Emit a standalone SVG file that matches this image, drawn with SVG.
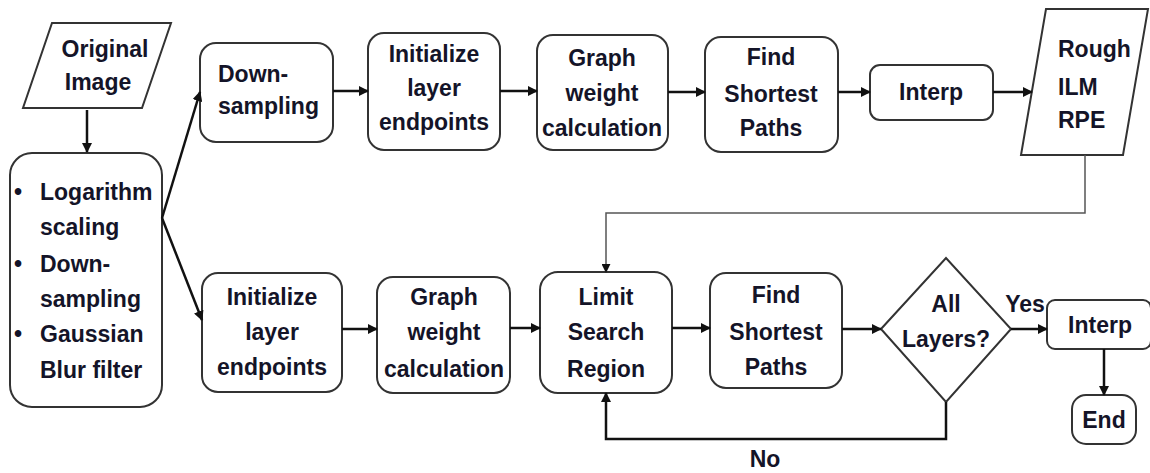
<svg xmlns="http://www.w3.org/2000/svg" width="1150" height="473" viewBox="0 0 1150 473">
<style>
.box{fill:#fff;stroke:#333;stroke-width:2}
.t{font-family:"Liberation Sans",Arial,sans-serif;font-weight:bold;font-size:23px;fill:#141428}
.c{text-anchor:middle}
.ln{fill:none;stroke:#111;stroke-width:2.5}
.thin{fill:none;stroke:#555;stroke-width:1.5}
</style>
<defs>
<marker id="ah" viewBox="0 0 10 10" refX="9" refY="5" markerWidth="4" markerHeight="4" orient="auto" markerUnits="strokeWidth">
<path d="M0,0 L10,5 L0,10 z" fill="#111"/>
</marker>
<marker id="ah2" viewBox="0 0 10 10" refX="9" refY="5" markerWidth="6" markerHeight="6" orient="auto" markerUnits="strokeWidth">
<path d="M0,0 L10,5 L0,10 z" fill="#111"/>
</marker>
</defs>
<g id="original">
<polygon class="box" points="52,23 171,23 142,108 23,108"/>
<text class="t c" x="105" y="57">Original</text>
<text class="t c" x="98" y="90">Image</text>
</g>
<g id="preprocess">
<rect class="box" x="10" y="153" width="152" height="254" rx="22"/>
<text class="t" x="14" y="200">•</text><text class="t" x="40" y="200">Logarithm</text>
<text class="t" x="40" y="235">scaling</text>
<text class="t" x="14" y="272">•</text><text class="t" x="40" y="272">Down-</text>
<text class="t" x="40" y="307">sampling</text>
<text class="t" x="14" y="342">•</text><text class="t" x="40" y="342">Gaussian</text>
<text class="t" x="40" y="378">Blur filter</text>
</g>
<g id="downsampling">
<rect class="box" x="200" y="43" width="133" height="99" rx="16"/>
<text class="t" x="218" y="82">Down-</text>
<text class="t" x="218" y="114">sampling</text>
</g>
<g id="init1">
<rect class="box" x="368" y="33" width="132" height="117" rx="16"/>
<text class="t c" x="434" y="62">Initialize</text>
<text class="t c" x="434" y="96">layer</text>
<text class="t c" x="434" y="130">endpoints</text>
</g>
<g id="graph1">
<rect class="box" x="537" y="35" width="131" height="115" rx="16"/>
<text class="t c" x="602" y="66">Graph</text>
<text class="t c" x="602" y="101">weight</text>
<text class="t c" x="602" y="136">calculation</text>
</g>
<g id="find1">
<rect class="box" x="705" y="37" width="133" height="115" rx="16"/>
<text class="t c" x="771" y="65">Find</text>
<text class="t c" x="771" y="102">Shortest</text>
<text class="t c" x="771" y="136">Paths</text>
</g>
<g id="interp1">
<rect class="box" x="870" y="65" width="123" height="55" rx="10"/>
<text class="t c" x="931" y="100">Interp</text>
</g>
<g id="rough">
<polygon class="box" points="1046,9 1148,9 1123,155 1021,155"/>
<text class="t" x="1058" y="57">Rough</text>
<text class="t" x="1058" y="95">ILM</text>
<text class="t" x="1058" y="128">RPE</text>
</g>
<g id="init2">
<rect class="box" x="202" y="273" width="140" height="119" rx="16"/>
<text class="t c" x="272" y="305">Initialize</text>
<text class="t c" x="272" y="340">layer</text>
<text class="t c" x="272" y="375">endpoints</text>
</g>
<g id="graph2">
<rect class="box" x="377" y="277" width="133" height="116" rx="16"/>
<text class="t c" x="444" y="305">Graph</text>
<text class="t c" x="444" y="340">weight</text>
<text class="t c" x="444" y="377">calculation</text>
</g>
<g id="limit">
<rect class="box" x="540" y="272" width="132" height="121" rx="18"/>
<text class="t c" x="606" y="305">Limit</text>
<text class="t c" x="606" y="340">Search</text>
<text class="t c" x="606" y="377">Region</text>
</g>
<g id="find2">
<rect class="box" x="710" y="273" width="132" height="115" rx="16"/>
<text class="t c" x="776" y="303">Find</text>
<text class="t c" x="776" y="340">Shortest</text>
<text class="t c" x="776" y="375">Paths</text>
</g>
<g id="decision">
<polygon class="box" points="881,329 946,258 1011,329 946,402"/>
<text class="t c" x="946" y="312">All</text>
<text class="t c" x="946" y="347">Layers?</text>
</g>
<g id="interp2">
<rect class="box" x="1047" y="300" width="104" height="49" rx="8"/>
<text class="t c" x="1100" y="333">Interp</text>
</g>
<g id="end">
<rect class="box" x="1072" y="395" width="64" height="49" rx="14"/>
<text class="t c" x="1104" y="428">End</text>
</g>
<g id="connectors">
<path class="ln" marker-end="url(#ah)" d="M87,110 V152"/>
<path class="ln" marker-end="url(#ah)" d="M162,218 L200,92"/>
<path class="ln" marker-end="url(#ah)" d="M162,218 L202,320"/>
<path class="ln" marker-end="url(#ah)" d="M333,91 H368"/>
<path class="ln" marker-end="url(#ah)" d="M500,91 H537"/>
<path class="ln" marker-end="url(#ah)" d="M668,92 H705"/>
<path class="ln" marker-end="url(#ah)" d="M838,92 H870"/>
<path class="ln" marker-end="url(#ah)" d="M993,92 H1032"/>
<path class="thin" marker-end="url(#ah2)" d="M1085,155 V213 H606 V272"/>
<path class="ln" marker-end="url(#ah)" d="M342,329 H377"/>
<path class="ln" marker-end="url(#ah)" d="M510,328 H540"/>
<path class="ln" marker-end="url(#ah)" d="M672,328 H710"/>
<path class="ln" marker-end="url(#ah)" d="M842,329 H881"/>
<path class="ln" marker-end="url(#ah)" d="M1011,329 H1047"/>
<path class="ln" marker-end="url(#ah)" d="M1104,349 V395"/>
<path class="ln" marker-end="url(#ah)" d="M946,402 V439 H606 V393"/>
<text class="t c" x="1025" y="312">Yes</text>
<text class="t c" x="765" y="467">No</text>
</g>
</svg>
